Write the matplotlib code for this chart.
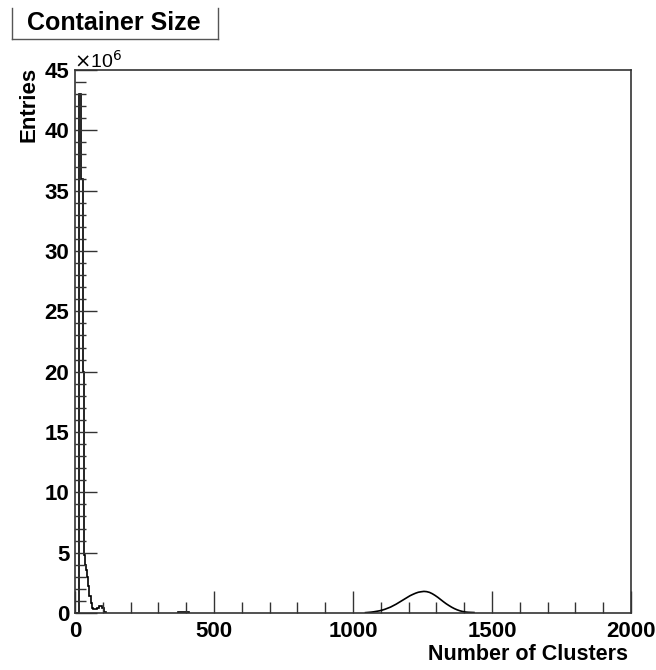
import numpy as np
import matplotlib
matplotlib.use("Agg")
import matplotlib.pyplot as plt
from matplotlib.lines import Line2D
from matplotlib.ticker import MultipleLocator

plt.rcParams['font.family'] = ['Liberation Sans', 'DejaVu Sans']

# ---- data (entries in units of 10^6) ----
low_edges = [0, 16, 22, 28, 32, 36, 40, 44, 48, 52, 56, 60, 64, 80, 88, 96, 104, 112]
low_counts = [0.0, 43.0, 36.0, 20.0, 4.8, 4.0, 3.6, 3.0, 2.2, 1.4, 0.8, 0.4, 0.3, 0.4, 0.55, 0.4, 0.1]

mid_edges = [370, 410]
mid_counts = [0.08]

peak_start = 1040
peak_width = 10
peak_counts = [0.03, 0.05, 0.07, 0.10, 0.14, 0.18, 0.24, 0.31, 0.40, 0.49,
               0.61, 0.73, 0.87, 1.01, 1.15, 1.29, 1.43, 1.54, 1.64, 1.72,
               1.76, 1.79, 1.77, 1.71, 1.60, 1.46, 1.30, 1.12, 0.94, 0.77,
               0.62, 0.48, 0.36, 0.26, 0.18, 0.12, 0.08, 0.06, 0.05, 0.04]

title = "Container Size"
xlabel = "Number of Clusters"
ylabel = "Entries"
x_ticks = [0, 500, 1000, 1500, 2000]
y_ticks = [0, 5, 10, 15, 20, 25, 30, 35, 40, 45]

# ---- figure ----
W, H = 656, 670
fig = plt.figure(figsize=(W / 100, H / 100), dpi=100)
L, R, T, B = 75, 631, 70, 613
ax = fig.add_axes([L / W, 1 - B / H, (R - L) / W, (B - T) / H])

kw = dict(color='black', linewidth=1.2, baseline=0, fill=False)
ax.stairs(low_counts, low_edges, **kw)
ax.stairs(mid_counts, mid_edges, **kw)
# the fine-binned peak is drawn as a line through bin centres
peak_centres = peak_start + peak_width * (np.arange(len(peak_counts)) + 0.5)
ax.plot(peak_centres, peak_counts, color='black', linewidth=1.2)

ax.set_xlim(0, 2000)
ax.set_ylim(0, 45)
ax.set_xticks(x_ticks)
ax.set_yticks(y_ticks)
ax.xaxis.set_minor_locator(MultipleLocator(100))
ax.yaxis.set_minor_locator(MultipleLocator(1))
ax.tick_params(which='both', direction='in', top=False, right=False, color='#333333', width=1.0)
ax.tick_params(which='major', length=16)
ax.tick_params(which='minor', length=8)
ax.tick_params(axis='y', pad=4)
ax.tick_params(axis='x', pad=6)
for lab in ax.get_xticklabels() + ax.get_yticklabels():
    lab.set_fontsize(16)
    lab.set_fontweight('bold')
for s in ax.spines.values():
    s.set_color('#333333')
    s.set_linewidth(1.2)

# exponent label
fig.text(74 / W, 1 - 68 / H, r"$\times$10$^{6}$", fontsize=14, ha='left', va='baseline')

# axis titles
fig.text(628 / W, 1 - 655 / H, xlabel, fontsize=15.5, fontweight='bold', ha='right', va='center')
fig.text(29 / W, 1 - 67 / H, ylabel, fontsize=16, fontweight='bold', ha='center', va='top', rotation=90)

# title box
box_col = '#555555'
fig.add_artist(Line2D([12 / W, 12 / W], [1 - 8 / H, 1 - 39 / H], color=box_col, lw=1, transform=fig.transFigure))
fig.add_artist(Line2D([218 / W, 218 / W], [1 - 8 / H, 1 - 39 / H], color=box_col, lw=1, transform=fig.transFigure))
fig.add_artist(Line2D([12 / W, 218 / W], [1 - 39 / H, 1 - 39 / H], color=box_col, lw=1, transform=fig.transFigure))
fig.text(114 / W, 1 - 23 / H, title, fontsize=18, fontweight='bold', ha='center', va='center')

fig.savefig("out.png", dpi=100)
